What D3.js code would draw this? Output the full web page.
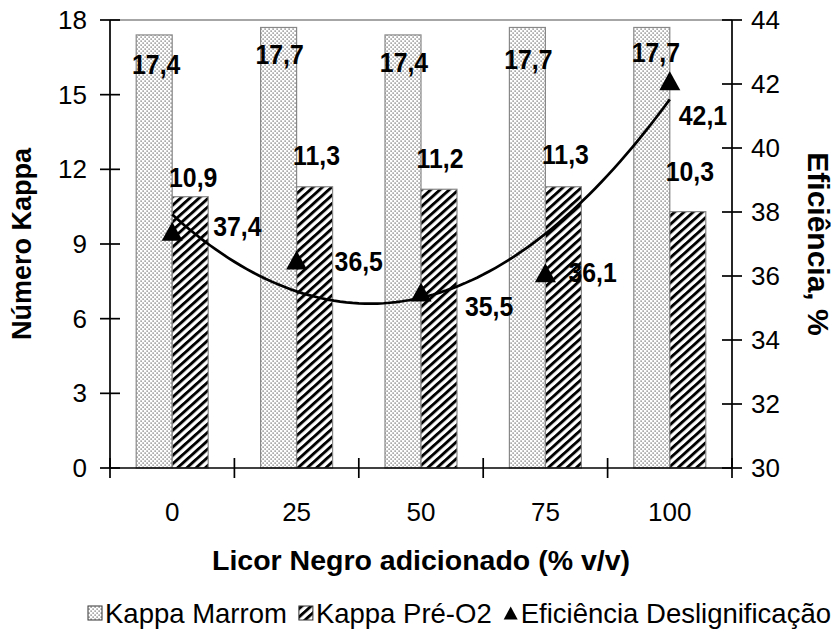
<!DOCTYPE html>
<html><head><meta charset="utf-8">
<script src="https://cdn.jsdelivr.net/npm/d3@7"></script>
<style>body{margin:0;background:#fff} svg{display:block} text{font-family:"Liberation Sans", Arial, sans-serif; fill:#000}</style>
</head><body><svg id="c" width="836" height="640"></svg>
<script>
// ---- data ----
const categories = ["0", "25", "50", "75", "100"];
const kappaMarrom = [17.4, 17.7, 17.4, 17.7, 17.7];
const kappaPreO2 = [10.9, 11.3, 11.2, 11.3, 10.3];
const eficiencia = [37.4, 36.5, 35.5, 36.1, 42.1];
const leftTicks = [0, 3, 6, 9, 12, 15, 18];
const rightTicks = [30, 32, 34, 36, 38, 40, 42, 44];
const seriesNames = ["Kappa Marrom", "Kappa Pré-O2", "Eficiência Deslignificação"];
const xTitle = "Licor Negro adicionado (% v/v)";
const yLeftTitle = "Número Kappa";
const yRightTitle = "Eficiência, %";

// ---- layout (label nudges, px) ----
const marromNudge = [[2, 30], [1, 27], [1, 28], [1, 32], [4, 25]];
const preNudge = [[3, -19], [2, -31], [1, -31], [2, -32], [2, -40]];
const efNudge = [[41, -5], [38, 2], [44, 15], [23, 0], [9, 35]];

const fmt = v => d3.format(".1f")(v).replace(".", ",");
const P = {left: 110, right: 732, top: 20, bottom: 468};

const svg = d3.select("#c");
const defs = svg.append("defs");
const pd = defs.append("pattern").attr("id", "dots").attr("patternUnits", "userSpaceOnUse").attr("width", 4).attr("height", 4);
pd.append("rect").attr("width", 4).attr("height", 4).attr("fill", "#fff");
pd.append("rect").attr("x", 0.5).attr("y", 0.5).attr("width", 1.2).attr("height", 1.2).attr("fill", "#555");
pd.append("rect").attr("x", 2.5).attr("y", 2.5).attr("width", 1.2).attr("height", 1.2).attr("fill", "#555");
const ps = defs.append("pattern").attr("id", "stripes").attr("patternUnits", "userSpaceOnUse").attr("width", 6.2).attr("height", 6.2).attr("patternTransform", "rotate(48)");
ps.append("rect").attr("width", 6.2).attr("height", 6.2).attr("fill", "#fff");
ps.append("rect").attr("width", 2.9).attr("height", 6.2).attr("fill", "#000");

const x = d3.scaleBand().domain(categories).range([P.left, P.right]);
const xs = d3.scaleBand().domain(["m", "p"]).range([0, 72]);
const yL = d3.scaleLinear().domain([0, 18]).range([P.bottom, P.top]);
const yR = d3.scaleLinear().domain([30, 44]).range([P.bottom, P.top]);
const cx = c => x(c) + x.bandwidth() / 2;
const barX = (c, k) => cx(c) - 36 + xs(k);

function txt(x0, y0, s, o = {}) {
  const size = o.size || 26, weight = o.weight || "normal", anchor = o.anchor || "middle", sx = o.sx || 1;
  return svg.append("text").attr("transform", `translate(${x0},${y0}) scale(${sx},1)`)
    .attr("text-anchor", anchor).attr("dy", "0.35em").attr("font-size", size).attr("font-weight", weight).text(s);
}

// top border
svg.append("line").attr("x1", P.left).attr("x2", P.right).attr("y1", P.top).attr("y2", P.top).attr("stroke", "#888").attr("stroke-width", 1.3);

// bars
svg.selectAll(".bm").data(kappaMarrom).join("rect").attr("class", "bm")
  .attr("x", (d, i) => barX(categories[i], "m")).attr("y", d => yL(d))
  .attr("width", xs.bandwidth()).attr("height", d => yL(0) - yL(d))
  .attr("fill", "url(#dots)").attr("stroke", "#888").attr("stroke-width", 1.2);
svg.selectAll(".bp").data(kappaPreO2).join("rect").attr("class", "bp")
  .attr("x", (d, i) => barX(categories[i], "p")).attr("y", d => yL(d))
  .attr("width", xs.bandwidth()).attr("height", d => yL(0) - yL(d))
  .attr("fill", "url(#stripes)").attr("stroke", "#888").attr("stroke-width", 1.2);

// axes lines
const ax = svg.append("g").attr("stroke", "#000").attr("stroke-width", 1.7);
ax.append("line").attr("x1", P.left).attr("x2", P.left).attr("y1", P.top).attr("y2", P.bottom);
ax.append("line").attr("x1", P.right).attr("x2", P.right).attr("y1", P.top).attr("y2", P.bottom);
ax.append("line").attr("x1", P.left).attr("x2", P.right).attr("y1", P.bottom).attr("y2", P.bottom);
leftTicks.forEach(t => ax.append("line").attr("x1", P.left - 10).attr("x2", P.left + 10).attr("y1", yL(t)).attr("y2", yL(t)));
rightTicks.forEach(t => ax.append("line").attr("x1", P.right - 10).attr("x2", P.right + 10).attr("y1", yR(t)).attr("y2", yR(t)));
const bounds = categories.map(c => x(c)).concat([P.right]);
bounds.forEach(b => ax.append("line").attr("x1", b).attr("x2", b).attr("y1", P.bottom - 10).attr("y2", P.bottom + 10));

// tick labels
leftTicks.forEach(t => txt(P.left - 23, yL(t), String(t), {anchor: "end"}));
rightTicks.forEach(t => txt(P.right + 19, yR(t), String(t), {anchor: "start"}));
categories.forEach(c => txt(cx(c), 512, c));

// trendline: quadratic least squares fit (Excel-style polynomial trendline)
(function () {
  const xsv = eficiencia.map((d, i) => i + 1);
  let S = [0, 0, 0, 0, 0], T = [0, 0, 0];
  xsv.forEach((xv, i) => { for (let k = 0; k < 5; k++) S[k] += Math.pow(xv, k); for (let k = 0; k < 3; k++) T[k] += Math.pow(xv, k) * eficiencia[i]; });
  const A = [[S[0], S[1], S[2], T[0]], [S[1], S[2], S[3], T[1]], [S[2], S[3], S[4], T[2]]];
  for (let i = 0; i < 3; i++) { for (let j = i + 1; j < 3; j++) { const f = A[j][i] / A[i][i]; for (let k = i; k < 4; k++) A[j][k] -= f * A[i][k]; } }
  const c = [0, 0, 0];
  for (let i = 2; i >= 0; i--) { let s = A[i][3]; for (let k = i + 1; k < 3; k++) s -= A[i][k] * c[k]; c[i] = s / A[i][i]; }
  const pts = d3.range(0, 4.0001, 0.05).map(t => { const xv = 1 + t; return [cx(categories[0]) + t * x.bandwidth(), yR(c[0] + c[1] * xv + c[2] * xv * xv)]; });
  svg.append("path").attr("d", d3.line()(pts)).attr("fill", "none").attr("stroke", "#000").attr("stroke-width", 2.7);
})();

// markers
const tri = (w, h) => `M0,${-h / 2}L${w / 2},${h / 2}L${-w / 2},${h / 2}Z`;
svg.selectAll(".mk").data(eficiencia).join("path").attr("class", "mk")
  .attr("transform", (d, i) => `translate(${cx(categories[i])},${yR(d)})`).attr("d", tri(21, 19)).attr("fill", "#000");

// data labels
const LB = {size: 27, weight: "bold", sx: 0.92};
kappaMarrom.forEach((v, i) => txt(barX(categories[i], "m") + xs.bandwidth() / 2 + marromNudge[i][0], yL(v) + marromNudge[i][1], fmt(v), LB));
kappaPreO2.forEach((v, i) => txt(barX(categories[i], "p") + xs.bandwidth() / 2 + preNudge[i][0], yL(v) + preNudge[i][1], fmt(v), LB));
eficiencia.forEach((v, i) => txt(cx(categories[i]) + efNudge[i][0], yR(v) + efNudge[i][1], fmt(v), Object.assign({anchor: "start"}, LB)));

// titles
txt((P.left + P.right) / 2, 560, xTitle, {size: 28.5, weight: "bold"});
svg.append("text").attr("transform", `translate(22,${(P.top + P.bottom) / 2}) rotate(-90)`).attr("text-anchor", "middle").attr("dy", "0.35em")
  .attr("font-size", 27).attr("font-weight", "bold").text(yLeftTitle);
svg.append("text").attr("transform", `translate(818,${(P.top + P.bottom) / 2}) rotate(90)`).attr("text-anchor", "middle").attr("dy", "0.35em")
  .attr("font-size", 30).attr("font-weight", "bold").text(yRightTitle);

// legend
(function () {
  const ly = 613;
  let lx = 88;
  const fills = ["url(#dots)", "url(#stripes)", null];
  seriesNames.forEach((name, i) => {
    if (fills[i]) {
      svg.append("rect").attr("x", lx).attr("y", ly - 7).attr("width", 14).attr("height", 14).attr("fill", fills[i]).attr("stroke", "#333").attr("stroke-width", 1);
    } else {
      svg.append("path").attr("transform", `translate(${lx + 7},${ly})`).attr("d", tri(14, 13)).attr("fill", "#000");
    }
    lx += 17;
    const t = txt(lx, ly, name, {size: 27.5, anchor: "start"});
    lx += t.node().getBBox().width + 12;
  });
})();
</script></body></html>
